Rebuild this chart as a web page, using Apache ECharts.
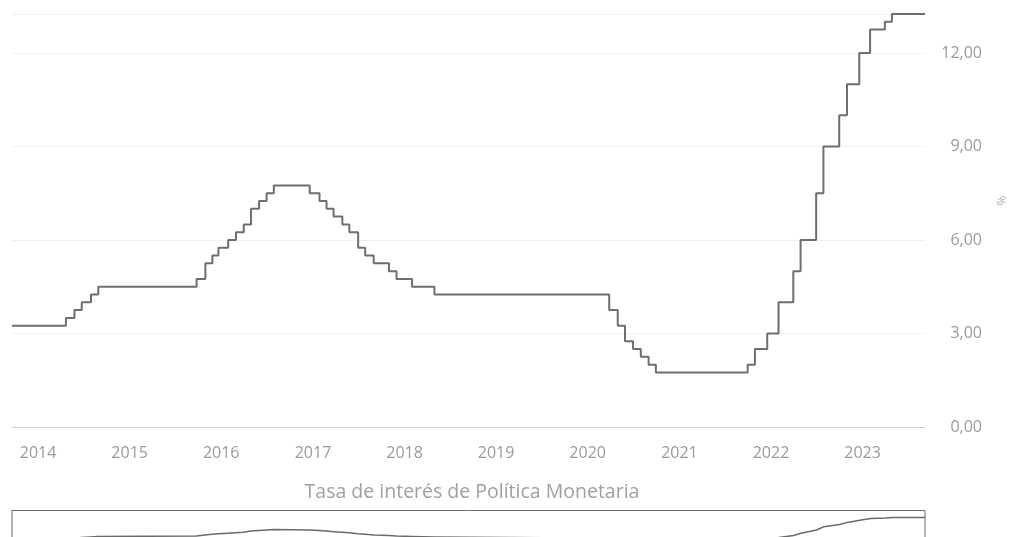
<!DOCTYPE html>
<html>
<head>
<meta charset="utf-8">
<script src="https://cdn.jsdelivr.net/npm/echarts@6/dist/echarts.min.js"></script>
<style>
html,body{margin:0;padding:0;background:#fff;}
#chart{width:1012px;height:537px;}
</style>
</head>
<body>
<div id="chart"></div>
<script>
// Fechas de cambio de la tasa (valor vigente desde esa fecha)
const changeDates = [
  '2013-09-19','2014-04-22','2014-05-26','2014-06-24','2014-07-31','2014-08-29',
  '2015-09-25','2015-10-30','2015-11-27','2015-12-21','2016-01-29','2016-02-29',
  '2016-03-31','2016-04-29','2016-05-31','2016-06-30','2016-07-29','2016-12-19',
  '2017-01-27','2017-02-24','2017-03-24','2017-04-28','2017-05-26','2017-06-30',
  '2017-07-28','2017-08-31','2017-10-31','2017-11-30','2018-01-31','2018-04-30',
  '2020-03-27','2020-04-30','2020-05-29','2020-06-30','2020-07-31','2020-08-31',
  '2020-09-29','2021-09-30','2021-10-29','2021-12-17','2022-01-31','2022-03-31',
  '2022-04-29','2022-06-30','2022-07-29','2022-09-30','2022-10-31','2022-12-19',
  '2023-01-31','2023-03-31','2023-04-28','2023-09-07'
];
const rates = [
  3.25,3.50,3.75,4.00,4.25,4.50,
  4.75,5.25,5.50,5.75,6.00,6.25,
  6.50,7.00,7.25,7.50,7.75,7.50,
  7.25,7.00,6.75,6.50,6.25,5.75,
  5.50,5.25,5.00,4.75,4.50,4.25,
  3.75,3.25,2.75,2.50,2.25,2.00,
  1.75,2.00,2.50,3.00,4.00,5.00,
  6.00,7.50,9.00,10.00,11.00,12.00,
  12.75,13.00,13.25,13.25
];
const yTicks = [0, 3, 6, 9, 12];
const seriesName = 'Tasa de interés de Política Monetaria';
const unitName = '%';

const FONT = '"Open Sans", "Noto Sans", sans-serif';
const chart = echarts.init(document.getElementById('chart'));
const seriesData = changeDates.map((d, i) => [d, rates[i]]);

chart.setOption({
  animation: false,
  backgroundColor: '#fff',
  textStyle: { fontFamily: FONT },
  title: {
    text: seriesName,
    left: 467, textAlign: 'center',
    top: 477,
    textStyle: { color: '#a0a0a0', fontSize: 19.5, fontWeight: 'normal', fontFamily: FONT }
  },
  grid: { left: 12, right: 87, top: 14, bottom: 110, outerBoundsMode: 'none', containLabel: false },
  xAxis: {
    type: 'time',
    min: changeDates[0],
    max: changeDates[changeDates.length - 1],
    splitNumber: 10,
    axisLine: { show: true, lineStyle: { color: '#cfcfcf', width: 1 } },
    axisTick: { show: false },
    splitLine: { show: false },
    axisLabel: {
      color: '#9a9a9a', fontSize: 16, fontFamily: FONT, margin: 18,
      showMinLabel: false, showMaxLabel: false,
      formatter: function (v) {
        const d = new Date(v);
        return (d.getMonth() === 0 && d.getDate() === 1) ? String(d.getFullYear()) : '';
      }
    }
  },
  yAxis: {
    type: 'value',
    position: 'right',
    min: 0, max: 13.25, interval: 3,
    name: unitName,
    nameLocation: 'middle',
    nameGap: 72,
    nameTextStyle: { color: '#b0b0b0', fontSize: 12, padding: [0, 0, 0, 40] },
    axisLine: { show: false },
    axisTick: { show: false },
    splitLine: { show: true, lineStyle: { color: '#f1f1f1', width: 1 } },
    axisLabel: {
      color: '#9a9a9a', fontSize: 16, fontFamily: FONT,
      align: 'right', margin: 57,
      showMaxLabel: false,
      formatter: function (v) {
        return yTicks.indexOf(v) >= 0 ? v.toFixed(2).replace('.', ',') : '';
      }
    }
  },
  dataZoom: [{
    type: 'slider',
    xAxisIndex: 0,
    left: 9, right: 89, top: 510, height: 40,
    showDetail: false,
    brushSelect: false,
    backgroundColor: 'rgba(0,0,0,0)',
    borderColor: '#6a6a6a',
    fillerColor: 'rgba(0,0,0,0)',
    handleSize: 0,
    handleStyle: { opacity: 0 },
    moveHandleSize: 0,
    moveHandleStyle: { opacity: 0 },
    dataBackground: {
      lineStyle: { color: '#6a6a6a', width: 1.5, opacity: 1 },
      areaStyle: { opacity: 0 }
    },
    selectedDataBackground: {
      lineStyle: { color: '#6a6a6a', width: 1.5, opacity: 1 },
      areaStyle: { opacity: 0 }
    }
  }],
  series: [{
    name: seriesName,
    type: 'line',
    step: 'end',
    data: seriesData,
    showSymbol: false,
    lineStyle: { color: '#6e6e6e', width: 2 }
  }]
});
</script>
</body>
</html>
